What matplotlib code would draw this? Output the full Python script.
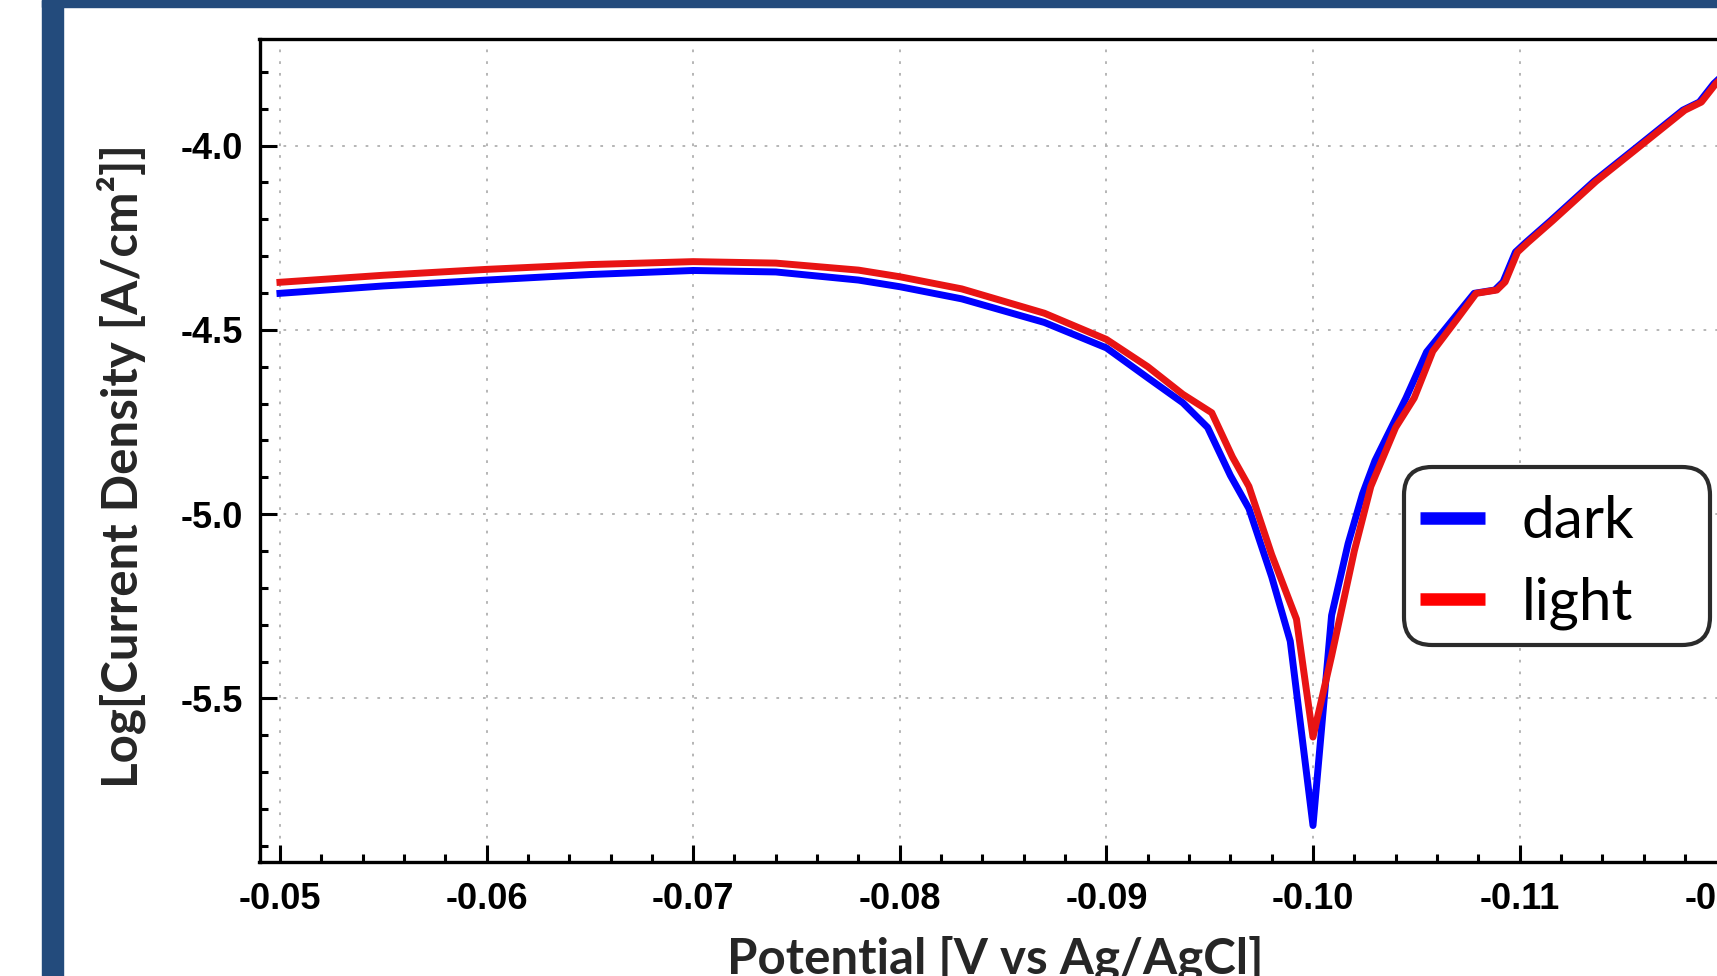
import matplotlib.pyplot as plt
from matplotlib.patches import Rectangle, FancyBboxPatch
from matplotlib.transforms import IdentityTransform
from matplotlib.ticker import MultipleLocator

# Tafel curves
potential_dark = [-0.050, -0.055, -0.060, -0.065, -0.070, -0.074, -0.078, -0.080,
                  -0.083, -0.087, -0.090, -0.092, -0.0937, -0.0949, -0.0960, -0.0969,
                  -0.0980, -0.0989, -0.1000, -0.1009, -0.1017, -0.1024, -0.1030,
                  -0.1045, -0.1055, -0.1068, -0.1078, -0.1088, -0.1092, -0.1098,
                  -0.1103, -0.1115, -0.1136, -0.1157, -0.1179, -0.1187, -0.1194, -0.1204]
logj_dark = [-4.401, -4.381, -4.365, -4.350, -4.339, -4.343, -4.365, -4.383,
             -4.416, -4.480, -4.549, -4.630, -4.698, -4.765, -4.895, -4.985,
             -5.170, -5.345, -5.845, -5.275, -5.080, -4.945, -4.855,
             -4.685, -4.560, -4.470, -4.401, -4.392, -4.370, -4.289,
             -4.263, -4.204, -4.097, -4.003, -3.904, -3.882, -3.832, -3.780]

potential_light = [-0.050, -0.055, -0.060, -0.065, -0.070, -0.074, -0.078, -0.080,
                   -0.083, -0.087, -0.090, -0.092, -0.0937, -0.0951, -0.0961, -0.0969,
                   -0.0980, -0.0992, -0.1000, -0.1009, -0.1020, -0.1028, -0.1040,
                   -0.1049, -0.1058, -0.1070, -0.1079, -0.1089, -0.1093, -0.1099,
                   -0.1104, -0.1116, -0.1137, -0.1158, -0.1180, -0.1188, -0.1195, -0.1205]
logj_light = [-4.371, -4.352, -4.336, -4.323, -4.315, -4.319, -4.338, -4.356,
              -4.389, -4.455, -4.526, -4.600, -4.675, -4.725, -4.845, -4.925,
              -5.110, -5.285, -5.605, -5.385, -5.100, -4.925, -4.765,
              -4.685, -4.558, -4.469, -4.401, -4.392, -4.370, -4.289,
              -4.263, -4.204, -4.097, -4.003, -3.904, -3.882, -3.832, -3.780]

xticks = [-0.05, -0.06, -0.07, -0.08, -0.09, -0.10, -0.11, -0.12]
yticks = [-4.0, -4.5, -5.0, -5.5]

W, H = 1717, 976
fig = plt.figure(figsize=(W / 100, H / 100), dpi=100)

# slide frame (left and top bars)
frame_col = '#234b7c'
fig.patches.append(Rectangle((42 / W, 0), 20.5 / W, 1, transform=fig.transFigure,
                             color=frame_col, zorder=0))
fig.patches.append(Rectangle((42 / W, 1 - 7 / H), 1, 7 / H, transform=fig.transFigure,
                             color=frame_col, zorder=0))

# axes run past the right edge of the picture (the slide is cropped)
ax = fig.add_axes([259.5 / W, 114 / H, 1570 / W, 822.6 / H])

ax.plot(potential_dark, logj_dark, color='blue', lw=5, label='dark')
ax.plot(potential_light, logj_light, color='#e81414', lw=5, label='light')

ax.set_xlim(-0.04901, -0.125)
ax.set_ylim(-5.944, -3.712)

ax.xaxis.set_minor_locator(MultipleLocator(0.002))
ax.yaxis.set_minor_locator(MultipleLocator(0.1))
ax.set_xticks(xticks)
ax.set_xticklabels(['%.2f' % v for v in xticks])
ax.set_yticks(yticks)
ax.set_yticklabels(['%.1f' % v for v in yticks])

ax.tick_params(which='both', direction='in', top=False, right=False, width=2.2)
ax.tick_params(which='major', length=12.5)
ax.tick_params(which='minor', length=5.8)
ax.tick_params(axis='x', which='major', pad=14.5)
ax.tick_params(axis='y', which='major', pad=12)
for lab in ax.get_xticklabels() + ax.get_yticklabels():
    lab.set_family('Liberation Sans')
    lab.set_fontweight('bold')
    lab.set_fontsize(26)

for sp in ax.spines.values():
    sp.set_linewidth(2.4)

ax.grid(True, which='major', color='#b0b0b0', linestyle=(0, (1.5, 5)), linewidth=1.3)
ax.set_axisbelow(True)

fig.text(121 / W, 1 - 426 * 1.095 / H, 'Log[Current Density [A/cm\u00b2]]', rotation=90,
         ha='center', va='center', fontsize=35.5, fontweight='bold',
         family=['Lato', 'DejaVu Sans'], color='#262626')
fig.text(995 / W, 3 / H, 'Potential [V vs Ag/AgCl]', ha='center', va='baseline',
         fontsize=35.5, fontweight='bold', family=['Lato', 'DejaVu Sans'], color='#262626')

# rounded legend box (pixel coordinates)
box = FancyBboxPatch((1404, H - 645), 306, 178, boxstyle='round,pad=0,rounding_size=28',
                     transform=IdentityTransform(), facecolor='white',
                     edgecolor='#2b2b2b', linewidth=3, zorder=4, clip_on=False)
ax.add_artist(box)

leg = ax.legend(loc='upper left', bbox_to_anchor=(1420 / W, 1 - 495 / H),
                bbox_transform=fig.transFigure, borderaxespad=0, borderpad=0,
                prop={'family': 'Lato', 'size': 42}, handlelength=1.12,
                handletextpad=0.62, labelspacing=0.49, frameon=False)
leg.set_zorder(5)
for ln in leg.get_lines():
    ln.set_linewidth(9)
    ln.set_solid_capstyle('butt')
leg.get_lines()[1].set_color('red')

fig.savefig('out.png', dpi=100)
